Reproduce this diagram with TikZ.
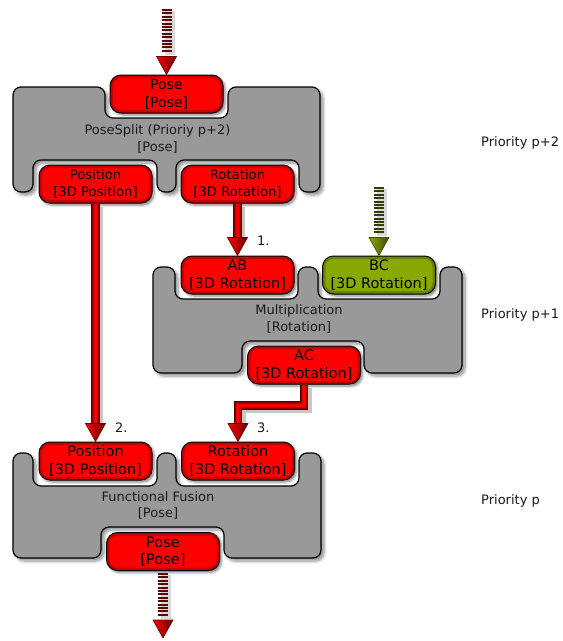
\documentclass[tikz,border=0pt]{standalone}
\usepackage{fontspec}
\setmainfont{DejaVu Sans}
\usetikzlibrary{calc,shadows.blur}

\definecolor{portred}{HTML}{FF0000}
\definecolor{portgreen}{HTML}{88AA00}
\definecolor{blockgrey}{HTML}{999999}
\definecolor{shaftdark}{HTML}{4D0000}
\definecolor{shaftmid}{HTML}{8A0000}
\definecolor{shaftlight}{HTML}{C00000}
\definecolor{stripered}{HTML}{5A0808}
\definecolor{stripegreen}{HTML}{2F3D00}
\definecolor{labeltext}{HTML}{1A1A1A}

\tikzset{
  blockshape/.style={fill=blockgrey, draw=black, line width=1.2pt, rounded corners=8pt,
    blur shadow={shadow xshift=3pt, shadow yshift=-3pt, shadow blur steps=6,
                 shadow blur radius=3pt, shadow opacity=45}},
  port/.style={rectangle, rounded corners=11pt, draw=black, line width=1pt, fill=portred,
    minimum width=113pt, minimum height=38pt, inner sep=0pt, align=center,
    font=\fontsize{14.5}{17.5}\selectfont,
    blur shadow={shadow xshift=2pt, shadow yshift=-2pt, shadow blur steps=5,
                 shadow blur radius=2.5pt, shadow opacity=50},
    path picture={\draw[line width=6pt, black, opacity=0.22, rounded corners=11pt]
      (path picture bounding box.south west) rectangle (path picture bounding box.north east);}},
  portsmall/.style={port, font=\fontsize{13.2}{16.8}\selectfont},
  greenport/.style={port, fill=portgreen},
  blocktext/.style={align=center, text=labeltext, inner sep=0pt,
    font=\fontsize{13}{16.5}\selectfont},
  prio/.style={anchor=west, inner sep=0pt, text=black!90, font=\fontsize{13}{16}\selectfont},
  steplabel/.style={anchor=west, inner sep=0pt, text=black!90, font=\fontsize{13}{16}\selectfont},
  shaft/.style={line width=2pt, draw=portred,
    preaction={draw, line width=9pt, black, opacity=0.22,
               transform canvas={shift={(3pt,-3pt)}}},
    preaction={draw, line width=8.5pt, draw=shaftdark},
    preaction={draw, line width=7pt, draw=shaftmid},
    preaction={draw, line width=5pt, draw=shaftlight},
    preaction={draw, line width=3.5pt, draw=red!90!black}},
  stripes/.style={line width=10pt, dash pattern=on 2pt off 1.4pt,
    preaction={draw=black, opacity=0.15, line width=10pt,
               transform canvas={shift={(3pt,-2pt)}}}},
}

% arrow head with its tip at #1, shaded from #2 (left) to #3 (right)
\newcommand\tipto[3]{%
  \path[left color=#2, right color=#3, draw=#3, line width=0.6pt]
    ($(#1)+(-10,-18)$) -- ($(#1)+(10,-18)$) -- (#1) -- cycle;}

\begin{document}
\begin{tikzpicture}[x=1pt, y=-1pt]
\useasboundingbox (0,0) rectangle (563,641);

% ---- block outlines with notches for the ports ----
\path[blockshape] (13,140) -- (13,87) -- (105,87) -- (105,118) -- (228,118) -- (228,87)
  -- (320,87) -- (320,192) -- (299,192) -- (299,160) -- (176,160) -- (176,192)
  -- (157,192) -- (157,160) -- (33,160) -- (33,192) -- (13,192) -- cycle;

\path[blockshape] (153,320) -- (153,267) -- (175,267) -- (175,299) -- (298,299) -- (298,267)
  -- (318,267) -- (318,299) -- (440,299) -- (440,267) -- (462,267) -- (462,373)
  -- (364,373) -- (364,341) -- (242,341) -- (242,373) -- (153,373) -- cycle;

\path[blockshape] (13,505) -- (13,453) -- (33,453) -- (33,486) -- (157,486) -- (157,453)
  -- (176,453) -- (176,486) -- (299,486) -- (299,453) -- (321,453) -- (321,558)
  -- (224,558) -- (224,527) -- (101,527) -- (101,558) -- (13,558) -- cycle;

% ---- block captions ----
\node[blocktext] (splitlbl) at (157.5,139) {PoseSplit (Prioriy p+2)\\{}[Pose]};
\node[blocktext] (multlbl) at (299,319) {Multiplication\\{}[Rotation]};
\node[blocktext] (fuselbl) at (158,505.5) {Functional Fusion\\{}[Pose]};

% ---- ports ----
\node[port, font=\fontsize{14}{18}\selectfont] (pose1) at (166.5,94) {Pose\\{}[Pose]};
\node[portsmall] (pos1) at (95.5,184) {Position\\{}[3D Position]};
\node[portsmall] (rot1) at (237.5,184) {Rotation\\{}[3D Rotation]};

\node[port] (ab) at (237.5,275) {AB\\{}[3D Rotation]};
\node[greenport] (bc) at (379,275) {BC\\{}[3D Rotation]};
\node[port] (ac) at (304,365) {AC\\{}[3D Rotation]};

\node[port] (pos3) at (95.5,461) {Position\\{}[3D Position]};
\node[port] (rot3) at (238,461) {Rotation\\{}[3D Rotation]};
\node[port] (pose3) at (163,551.5) {Pose\\{}[Pose]};

% ---- priority column ----
\node[prio] (p2) at (481,143) {Priority p+2};
\node[prio] (p1) at (481,315) {Priority p+1};
\node[prio] (p0) at (481,501) {Priority p};

% ---- external inputs and output ----
\coordinate (in1) at (166.5,9);
\coordinate (inbc) at (379,187);
\coordinate (out1) at (163,638);

\draw[stripes, draw=stripered] (in1) -- ($(pose1.north)+(0,-22)$);
\tipto{pose1.north}{portred}{red!40!black}

\draw[stripes, draw=stripegreen] (inbc) -- ($(bc.north)+(0,-22)$);
\tipto{bc.north}{portgreen}{portgreen!45!black}

\draw[stripes, draw=stripered] ($(pose3.south)+(0,2)$) -- ($(out1)+(0,-21)$);
\tipto{out1}{portred}{red!40!black}

% ---- data flow between the blocks ----
\draw[shaft] (rot1.south) -- ($(ab.north)+(0,-17)$);
\tipto{ab.north}{portred}{red!40!black}
\node[steplabel] (s1) at (257,241) {1.};

\draw[shaft] (pos1.south) -- ($(pos3.north)+(0,-17)$);
\tipto{pos3.north}{portred}{red!40!black}
\node[steplabel] (s2) at (115,428) {2.};

\draw[shaft] (ac.south) -- ++(0,21) -| ($(rot3.north)+(0,-17)$);
\tipto{rot3.north}{portred}{red!40!black}
\node[steplabel] (s3) at (257,428) {3.};

\end{tikzpicture}
\end{document}
